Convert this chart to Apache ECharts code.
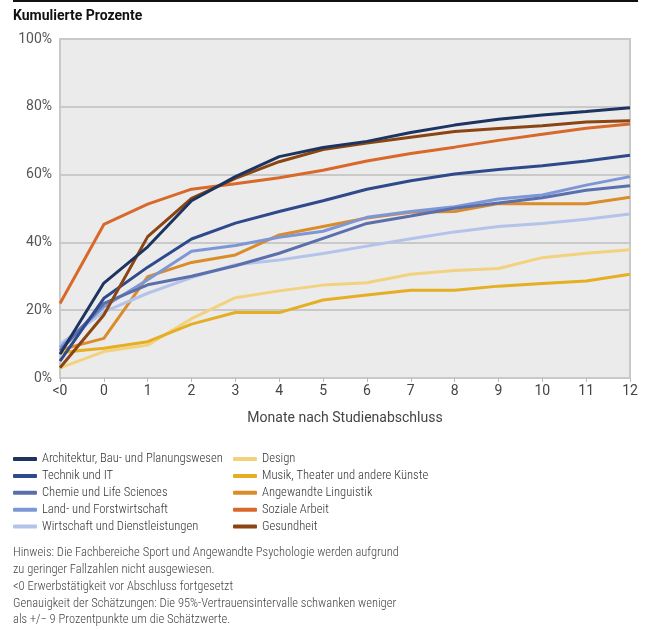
<!DOCTYPE html>
<html><head><meta charset="utf-8">
<script src="https://cdn.jsdelivr.net/npm/echarts@6/dist/echarts.min.js"></script>
<style>html,body{margin:0;padding:0;background:#fff}#c{width:651px;height:630px}</style>
</head><body><div id="c"></div>
<script>
const categories = ['<0','0','1','2','3','4','5','6','7','8','9','10','11','12'];
const architektur = [7, 28, 38.7, 52.3, 59.4, 65.3, 68, 69.8, 72.4, 74.6, 76.3, 77.6, 78.6, 79.7];
const technik     = [5, 23.5, 32.7, 41, 45.7, 49.1, 52.3, 55.7, 58.2, 60.2, 61.5, 62.6, 64, 65.7];
const chemie      = [8, 22, 27.5, 30, 33.1, 36.8, 41.2, 45.6, 47.8, 50.1, 51.6, 53.2, 55.4, 56.7];
const land        = [9, 21, 29, 37.4, 39.1, 41.5, 43.3, 47.4, 49.1, 50.5, 52.8, 54, 56.9, 59.4];
const wirtschaft  = [10, 19.5, 25, 29.6, 33.4, 34.8, 36.7, 38.9, 41.1, 43.1, 44.7, 45.6, 46.8, 48.4];
const design      = [3, 7.8, 9.7, 17.5, 23.7, 25.7, 27.4, 28.1, 30.6, 31.7, 32.3, 35.5, 36.8, 37.8];
const musik       = [7.5, 8.8, 10.7, 15.9, 19.3, 19.3, 23, 24.5, 25.9, 25.9, 27.1, 27.9, 28.6, 30.6];
const linguistik  = [8.3, 11.7, 29.9, 34.1, 36.3, 42.2, 44.7, 47.2, 48.9, 49.1, 51.5, 51.4, 51.4, 53.3];
const sozial      = [22, 45.3, 51.3, 55.7, 57.3, 59.1, 61.3, 64, 66.2, 68.1, 70.1, 71.9, 73.7, 74.9];
const gesundheit  = [3, 18.6, 41.7, 53, 58.9, 63.8, 67.4, 69.3, 71, 72.7, 73.6, 74.4, 75.5, 75.9];
const yTicks = [0, 20, 40, 60, 80, 100];

const names = ['Architektur, Bau- und Planungswesen','Technik und IT','Chemie und Life Sciences','Land- und Forstwirtschaft','Wirtschaft und Dienstleistungen','Design','Musik, Theater und andere Künste','Angewandte Linguistik','Soziale Arbeit','Gesundheit'];
const colors = ['#1d3461','#2f4a8c','#5b6fad','#7d96d6','#b3c3ea','#f3d27d','#e6ae22','#db8c2a','#d9692b','#8a4512'];
const values = [architektur, technik, chemie, land, wirtschaft, design, musik, linguistik, sozial, gesundheit];
const notes = [
  'Hinweis: Die Fachbereiche Sport und Angewandte Psychologie werden aufgrund',
  'zu geringer Fallzahlen nicht ausgewiesen.',
  '<0 Erwerbstätigkeit vor Abschluss fortgesetzt',
  'Genauigkeit der Schätzungen: Die 95%-Vertrauensintervalle schwanken weniger',
  'als +/− 9 Prozentpunkte um die Schätzwerte.'
];

const font = 'Roboto, "Noto Sans", sans-serif';
const cfont = '"Roboto Condensed", Roboto, sans-serif';
const chart = echarts.init(document.getElementById('c'), null, {renderer: 'canvas'});
const order = [5,6,7,4,3,2,1,8,9,0];
const series = order.map(i => ({
  name: names[i], type: 'line', data: values[i], symbol: 'none', smooth: false,
  lineStyle: {color: colors[i], width: 3}, itemStyle: {color: colors[i]},
  z: 2
}));
const legendStyle = {
  orient: 'vertical', top: 447.5, itemWidth: 24, itemHeight: 4, itemGap: 3.9,
  icon: 'roundRect', padding: 5,
  textStyle: {fontFamily: cfont, fontSize: 12.6, fontWeight: 300, color: '#333', lineHeight: 13}
};
chart.setOption({
  animation: false,
  textStyle: {fontFamily: font},
  grid: {left: 60, right: 21, top: 39, bottom: 252, show: true, backgroundColor: '#ebebeb', borderColor: '#c9c9c9', borderWidth: 2},
  xAxis: {
    type: 'category', data: categories, boundaryGap: false,
    name: 'Monate nach Studienabschluss', nameLocation: 'middle', nameGap: 33,
    nameTextStyle: {fontFamily: font, fontSize: 14, color: '#444'},
    axisLine: {lineStyle: {color: '#c9c9c9', width: 2}},
    axisTick: {length: 4, lineStyle: {color: '#bbb'}},
    axisLabel: {fontFamily: font, fontSize: 14, color: '#444', margin: 6},
    splitLine: {show: false}
  },
  yAxis: {
    type: 'value', min: 0, max: 100, interval: 20,
    axisLine: {show: true, lineStyle: {color: '#c9c9c9', width: 2}},
    axisTick: {show: false},
    axisLabel: {fontFamily: font, fontSize: 14, color: '#555', margin: 8, formatter: v => yTicks.includes(v) ? v + '%' : ''},
    splitLine: {lineStyle: {color: '#c9c9c9', width: 2}}
  },
  legend: [
    Object.assign({left: 8, data: names.slice(0,5)}, legendStyle),
    Object.assign({left: 228, data: names.slice(5)}, legendStyle)
  ],
  graphic: [
    {type: 'line', shape: {x1: 13, y1: 1, x2: 638, y2: 1}, style: {stroke: '#111', lineWidth: 2}},
    {type: 'text', left: 13, top: 9, style: {text: 'Kumulierte Prozente', font: 'bold 14px ' + font, fill: '#111'}},
    {type: 'text', left: 13, top: 545, style: {text: notes.join('\n'), font: '300 12.5px ' + cfont, fill: '#444', lineHeight: 16.7}}
  ],
  series: series
});
</script></body></html>
